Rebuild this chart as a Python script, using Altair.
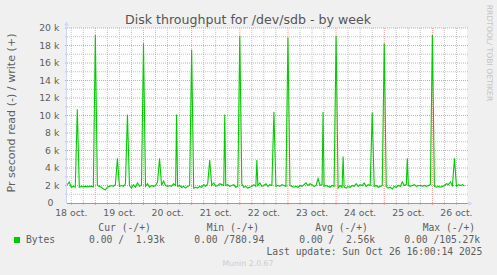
import altair as alt
import pandas as pd

# ---------------- data (values in k bytes/s) ----------------
# hourly baseline write rate, per day; first hour of each day given separately
day_first_hour = [10, 0, 0, 0, 0, 0, 0, 0, 0]
oct18 = [2.1, 2.4, 1.8, 1.9, 1.8, 1.9, 1.8, 1.9, 1.85, 1.9, 1.85, 1.9, 1.9, 1.85]
oct19 = [1.9, 2.0, 1.9, 1.8, 1.6, 1.5, 1.8, 1.9, 2.0, 1.9, 2.1, 1.9, 1.9, 2.0, 1.9, 2.2,
         2.0, 2.0, 1.7, 2.1, 1.8, 2.3, 1.9, 2.0]
oct20 = [1.9, 1.9, 2.2, 1.8, 2.0, 1.9, 2.0, 2.4, 2.0, 2.0, 2.5, 2.0, 1.9, 2.0, 1.9, 2.2,
         2.0, 1.9, 2.0, 1.8, 1.9, 1.7, 1.9, 2.0]
oct21 = [1.9, 1.7, 1.8, 1.7, 1.9, 1.8, 2.1, 1.9, 2.2, 2.0, 2.0, 2.3, 1.9, 2.0, 2.2, 2.1,
         2.0, 2.0, 2.1, 1.9, 2.0, 2.1, 1.8, 1.9]
oct22 = [1.9, 2.2, 1.8, 1.9, 1.7, 1.8, 1.9, 2.1, 1.9, 2.0, 2.3, 1.9, 2.0, 2.2, 1.9, 2.1,
         2.0, 2.0, 1.9, 2.0, 1.9, 2.1, 2.0, 1.9]
oct23 = [1.9, 2.0, 1.9, 1.8, 1.9, 1.8, 2.0, 1.9, 2.1, 2.3, 2.0, 2.2, 2.1, 1.9, 2.0, 2.8,
         2.0, 2.1, 1.9, 2.0, 1.9, 1.8, 2.0, 1.9]
oct24 = [1.9, 1.7, 2.0, 1.8, 1.8, 1.7, 1.9, 1.8, 2.0, 1.9, 2.2, 1.9, 2.1, 2.0, 2.3, 1.9,
         2.1, 2.0, 2.0, 1.9, 2.0, 1.8, 1.9, 2.0]
oct25 = [1.9, 1.9, 1.7, 1.8, 1.6, 1.9, 1.8, 2.0, 1.9, 2.4, 2.0, 2.1, 2.0, 1.9, 2.0, 2.1,
         1.9, 2.0, 2.0, 1.9, 2.0, 1.9, 2.0, 2.1]
oct26 = [1.9, 1.9, 1.8, 1.9, 1.8, 1.9, 2.0, 2.2, 2.1, 2.4, 2.0, 2.0, 1.9, 2.1, 2.0, 2.1, 1.93]
days = [oct18, oct19, oct20, oct21, oct22, oct23, oct24, oct25, oct26]

spike_times = ["2025-10-18 15:00", "2025-10-19 00:00", "2025-10-19 11:00", "2025-10-19 16:00",
               "2025-10-20 00:00", "2025-10-20 08:00", "2025-10-20 16:30", "2025-10-21 00:00",
               "2025-10-21 09:00", "2025-10-21 16:30", "2025-10-22 00:00", "2025-10-22 08:30",
               "2025-10-22 17:00", "2025-10-23 00:00", "2025-10-23 17:30", "2025-10-24 00:00",
               "2025-10-24 03:30", "2025-10-24 18:00", "2025-10-25 00:00", "2025-10-25 11:30",
               "2025-10-26 00:00", "2025-10-26 11:00"]
spike_k = [10.7, 19.2, 5.1, 10.1, 18.25, 5.1, 10.1, 17.5, 4.9, 10.1, 19.1, 4.9,
           10.4, 18.9, 10.4, 19.1, 5.3, 10.35, 18.25, 5.1, 19.2, 5.1]

y_major = [2000, 4000, 6000, 8000, 10000, 12000, 14000, 16000, 18000, 20000]
y_minor = [1000, 3000, 5000, 7000, 9000, 11000, 13000, 15000, 17000, 19000]
y_labels = ["2 k", "4 k", "6 k", "8 k", "10 k", "12 k", "14 k", "16 k", "18 k", "20 k"]
x_labels = ["18 oct.", "19 oct.", "20 oct.", "21 oct.", "22 oct.", "23 oct.", "24 oct.",
            "25 oct.", "26 oct."]

# ---------------- build tables ----------------
base = pd.Timestamp("2025-10-18 00:00")


def hours(ts):
    return (pd.Timestamp(ts) - base) / pd.Timedelta(hours=1)


series = {}
for d, (fh, vals) in enumerate(zip(day_first_hour, days)):
    for i, v in enumerate(vals):
        series[d * 24 + fh + i] = v * 1000
for t, v in zip(spike_times, spike_k):
    series[hours(t)] = v * 1000
df = pd.DataFrame(sorted(series.items()), columns=["h", "v"])

X_DOM = [9.87, 209.25]
xs = alt.Scale(domain=X_DOM, nice=False, zero=False)
ys = alt.Scale(domain=[0, 20000], nice=False)

midnights = [24 * d for d in range(1, 9)]
six_h = [h for h in range(12, 210, 6) if h % 24 != 0 and X_DOM[0] <= h <= X_DOM[1]]
noons = [12 + 24 * d for d in range(9)]

FONT = "DejaVu Sans"
MONO = "DejaVu Sans Mono"
TXT = "#5e5e5e"

hmin = alt.Chart(pd.DataFrame({"y": y_minor})).mark_rule(
    color="#c2c2c2", strokeDash=[1, 1], strokeWidth=1
).encode(y=alt.Y("y:Q", scale=ys, axis=None), x=alt.value(-2), x2=alt.value(401))
hmaj = alt.Chart(pd.DataFrame({"y": y_major})).mark_rule(
    color="#ee9a9a", strokeDash=[1, 1], strokeWidth=1
).encode(y=alt.Y("y:Q", scale=ys, axis=None), x=alt.value(-2), x2=alt.value(401))
vmin = alt.Chart(pd.DataFrame({"h": six_h})).mark_rule(
    color="#c2c2c2", strokeDash=[1, 1], strokeWidth=1
).encode(x=alt.X("h:Q", scale=xs, axis=None), y=alt.value(0), y2=alt.value(177))
vmaj = alt.Chart(pd.DataFrame({"h": midnights})).mark_rule(
    color="#ee9a9a", strokeDash=[1, 1], strokeWidth=1
).encode(x=alt.X("h:Q", scale=xs, axis=None), y=alt.value(0), y2=alt.value(178))

line = alt.Chart(df).mark_line(color="#00cc00", strokeWidth=1.1).encode(
    x=alt.X("h:Q", scale=xs, axis=None), y=alt.Y("v:Q", scale=ys, axis=None)
)

axis_left = alt.Chart(pd.DataFrame({"a": [0]})).mark_rule(color="#CFD6F8").encode(
    x=alt.value(-0.5), y=alt.value(175), y2=alt.value(-5)
)
axis_bottom = alt.Chart(pd.DataFrame({"a": [0]})).mark_rule(color="#9a9aac").encode(
    x=alt.value(0), x2=alt.value(401), y=alt.value(175.5)
)
arrow_up = alt.Chart(pd.DataFrame({"a": [0]})).mark_point(
    shape="triangle-up", filled=True, color="#CFD6F8", size=22, opacity=1
).encode(x=alt.value(-0.5), y=alt.value(-4.5))
arrow_right = alt.Chart(pd.DataFrame({"a": [0]})).mark_point(
    shape="triangle-right", filled=True, color="#CFD6F8", size=22, opacity=1
).encode(x=alt.value(403.5), y=alt.value(175.5))

ylab = alt.Chart(pd.DataFrame({"y": y_major, "t": y_labels})).mark_text(
    align="right", baseline="middle", font=FONT, fontSize=9.3, color=TXT
).encode(y=alt.Y("y:Q", scale=ys, axis=None), x=alt.value(-7.7), text="t:N")
ylab0 = alt.Chart(pd.DataFrame({"y": [0], "t": ["0"]})).mark_text(
    align="right", baseline="middle", font=FONT, fontSize=9.3, color=TXT
).encode(y=alt.Y("y:Q", scale=ys, axis=None), x=alt.value(-13.7), text="t:N")
xlab = alt.Chart(pd.DataFrame({"h": noons, "t": x_labels})).mark_text(
    align="center", baseline="alphabetic", font=FONT, fontSize=9.3, color=TXT
).encode(x=alt.X("h:Q", scale=xs, axis=None), y=alt.value(188), text="t:N")


def txt(s, x, y, size=9.7, font=MONO, align="left", color=TXT, angle=0, baseline="alphabetic"):
    return alt.Chart(pd.DataFrame({"t": [s]})).mark_text(
        align=align, baseline=baseline, font=font, fontSize=size, color=color, angle=angle
    ).encode(x=alt.value(x), y=alt.value(y), text="t:N")


NB = "\u00a0"
texts = [
    txt("Disk throughput for /dev/sdb - by week", 181, -4.5, size=12.6, font=FONT,
        align="center", color="#555555"),
    txt("Pr second read (-) / write (+)", -55, 85, size=11.1, font=FONT, align="center",
        angle=270, baseline="middle"),
    txt("RRDTOOL/ TOBI OETIKER", 421.7, 25, size=7.7, font=FONT, align="center",
        angle=90, baseline="middle", color="#c4c4c4"),
    txt("Cur (-/+)", 31.3, 202.5),
    txt("Min (-/+)", 139.7, 202.5),
    txt("Avg (-/+)", 248.3, 202.5),
    txt("Max (-/+)", 355.7, 202.5),
    txt("Bytes", -41, 215.3),
    txt("0.00" + NB + "/" + NB + NB + "1.93k", 22, 215.3),
    txt("0.00" + NB + "/780.94", 127.3, 215.3),
    txt("0.00" + NB + "/" + NB + NB + "2.56k", 232.3, 215.3),
    txt("0.00" + NB + "/105.27k", 337.3, 215.3),
    txt("Last update: Sun Oct 26 16:00:14 2025", 415.3, 227, align="right"),
    txt("Munin 2.0.67", 181, 237.7, size=7.8, font=FONT, align="center", color="#cccccc"),
]

swatch = alt.Chart(pd.DataFrame({"a": [0]})).mark_rect(color="#00cc00").encode(
    x=alt.value(-53), x2=alt.value(-47), y=alt.value(209), y2=alt.value(215)
)

chart = alt.layer(
    hmin, vmin, hmaj, vmaj, line, axis_left, axis_bottom, arrow_up, arrow_right,
    ylab, ylab0, xlab, swatch, *texts
).properties(
    width=400, height=175,
    autosize=alt.AutoSizeParams(type="none"),
    padding={"left": 67, "top": 28, "right": 30, "bottom": 72},
    background="#f0f0f0",
).configure_view(stroke=None, fill="white")

chart.save("out.html", embed_options={"renderer": "svg", "actions": False})
